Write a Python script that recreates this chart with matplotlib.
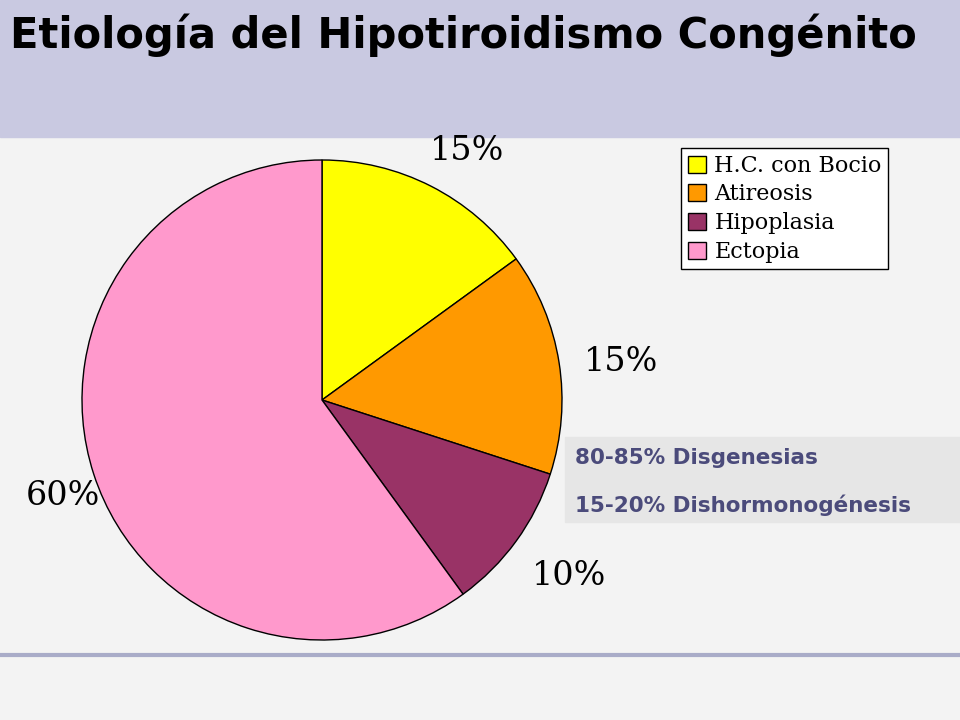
import numpy as np
import matplotlib.pyplot as plt
import matplotlib.patches as mpatches

title = "Etiología del Hipotiroidismo Congénito"
categories = ["H.C. con Bocio", "Atireosis", "Hipoplasia", "Ectopia"]
shares = [15, 15, 10, 60]
pct_labels = ["15%", "15%", "10%", "60%"]
colors = ["#ffff00", "#ff9900", "#993366", "#ff99cc"]
notes = ["80-85% Disgenesias", "15-20% Dishormonogénesis"]

fig = plt.figure(figsize=(9.6, 7.2), dpi=100)
fig.patch.set_facecolor("#f3f3f3")

# title banner
fig.patches.append(mpatches.Rectangle((0, 1 - 137 / 720), 1, 137 / 720,
                                      transform=fig.transFigure, color="#c9c9e1", zorder=0))
fig.text(10 / 960, 1 - 35 / 720, title, fontsize=30, fontweight="bold",
         va="center", ha="left", color="black")

# bottom rule
fig.add_artist(plt.Line2D([0, 1], [1 - 655 / 720] * 2, transform=fig.transFigure,
                          color="#a9acc8", lw=3))

ax = fig.add_axes([82 / 960, 80 / 720, 480 / 960, 480 / 720])
ax.set_zorder(3)
ax.patch.set_visible(False)
wedges, _ = ax.pie(shares, colors=colors, startangle=90, counterclock=False,
                   wedgeprops=dict(edgecolor="black", linewidth=1))
for w, lab in zip(wedges, pct_labels):
    mid = np.deg2rad((w.theta1 + w.theta2) / 2)
    ax.text(1.2 * np.cos(mid) + 0.06, 1.2 * np.sin(mid) - 0.03, lab, fontsize=24,
            family="DejaVu Serif", ha="center", va="center", clip_on=False)
ax.set_xlim(-1, 1)
ax.set_ylim(-1, 1)
ax.set_aspect("equal")

handles = [mpatches.Patch(facecolor=c, edgecolor="black") for c in colors]
leg = fig.legend(handles, categories, loc="upper left",
                 bbox_to_anchor=(670 / 960, 1 - 137 / 720), fancybox=False,
                 edgecolor="black", framealpha=1, handlelength=0.8, handleheight=0.8,
                 handletextpad=0.4, labelspacing=0.3, borderpad=0.3,
                 prop=dict(family="DejaVu Serif", size=16))
leg.get_frame().set_linewidth(1)

# notes box
fig.patches.append(mpatches.Rectangle((565 / 960, 1 - 522 / 720), 395 / 960, 85 / 720,
                                      transform=fig.transFigure, color="#e6e6e6", zorder=0))
for i, n in enumerate(notes):
    fig.text(575 / 960, 1 - (458 + 47 * i) / 720, n, fontsize=15.5, fontweight="bold",
             color="#4b4b7b", va="center", ha="left")

fig.savefig("out.png", dpi=100, facecolor=fig.get_facecolor())
